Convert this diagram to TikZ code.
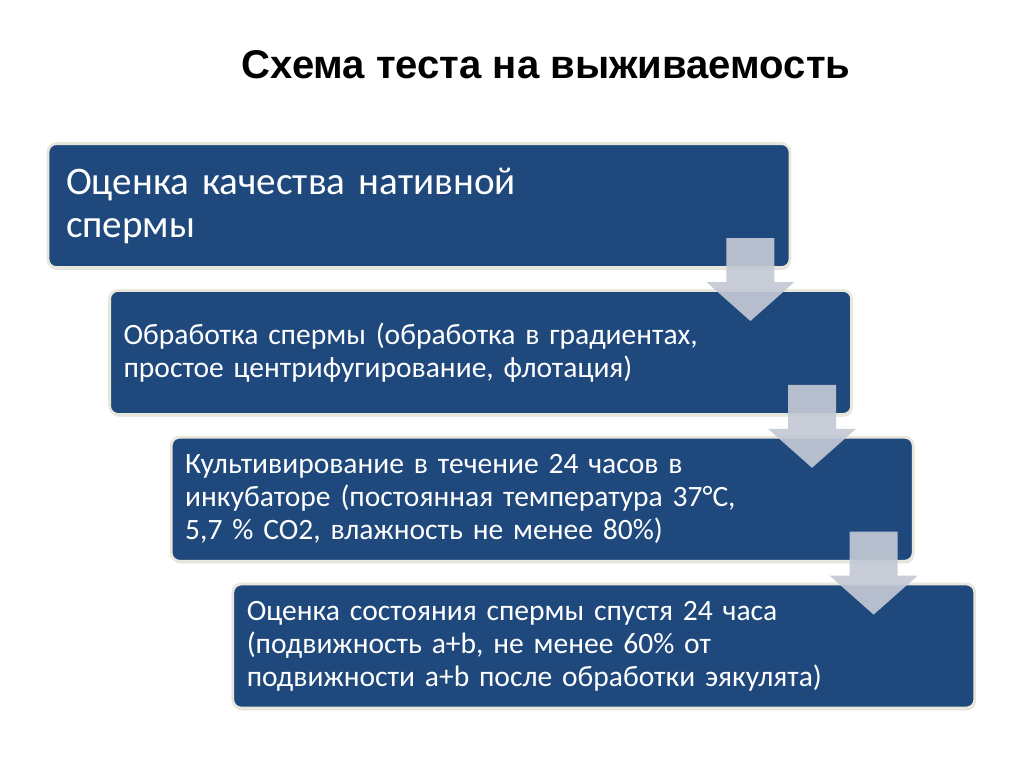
\documentclass[tikz,border=0pt]{standalone}
\usepackage{fontspec}
\setmainfont{Carlito}
\newfontfamily\titlefont{Liberation Sans}
\usetikzlibrary{positioning,shadows}
\definecolor{boxblue}{HTML}{1f497d}
\definecolor{rim}{HTML}{E9E6DC}
\definecolor{arrowgray}{HTML}{C3C9D4}
\tikzset{
  stage/.style={draw=rim, line width=2pt, fill=boxblue, rounded corners=6pt,
    minimum width=18.55cm, minimum height=3.1cm, inner xsep=0.35cm,
    text width=17.85cm, align=left, text=white,
    font=\fontsize{21}{23.5}\selectfont,
    drop shadow={opacity=0.25, shadow xshift=0.6pt, shadow yshift=-1.6pt}},
  bigstage/.style={stage, inner xsep=0.45cm, text width=17.65cm,
    font=\fontsize{27.8}{30.6}\selectfont},
  darr/.style={fill=arrowgray, fill opacity=0.92},
  ttl/.style={font=\titlefont\bfseries\fontsize{28.5}{32}\selectfont},
}
\begin{document}
\begin{tikzpicture}
\useasboundingbox (0,0) rectangle (25.6,-19.175);
\node[ttl] (title) at (13.65,-1.62) {Схема теста на выживаемость};
\node[bigstage] (b1) at (10.475,-5.14) {Оценка качества нативной\\спермы};
\node[stage, below=0.5cm of b1, xshift=1.54cm] (b2) {Обработка спермы (обработка в градиентах,\\простое центрифугирование, флотация)};
\node[stage, below=0.5cm of b2, xshift=1.54cm] (b3) {Культивирование в течение 24 часов в\\инкубаторе (постоянная температура 37°C,\\5,7 \% CO2, влажность не менее 80\%)};
\node[stage, below=0.5cm of b3, xshift=1.54cm] (b4) {Оценка состояния спермы спустя 24 часа\\(подвижность a+b, не менее 60\% от\\подвижности a+b после обработки эякулята)};
% block arrows between the stages
\foreach \b in {b1,b2,b3}
  \fill[darr, shift={(\b.south east)}] (-1.625,0.775) -- (-0.425,0.775) -- (-0.425,-0.325)
    -- (0.075,-0.325) -- (-1.025,-1.3) -- (-2.125,-0.325) -- (-1.625,-0.325) -- cycle;
\end{tikzpicture}
\end{document}
